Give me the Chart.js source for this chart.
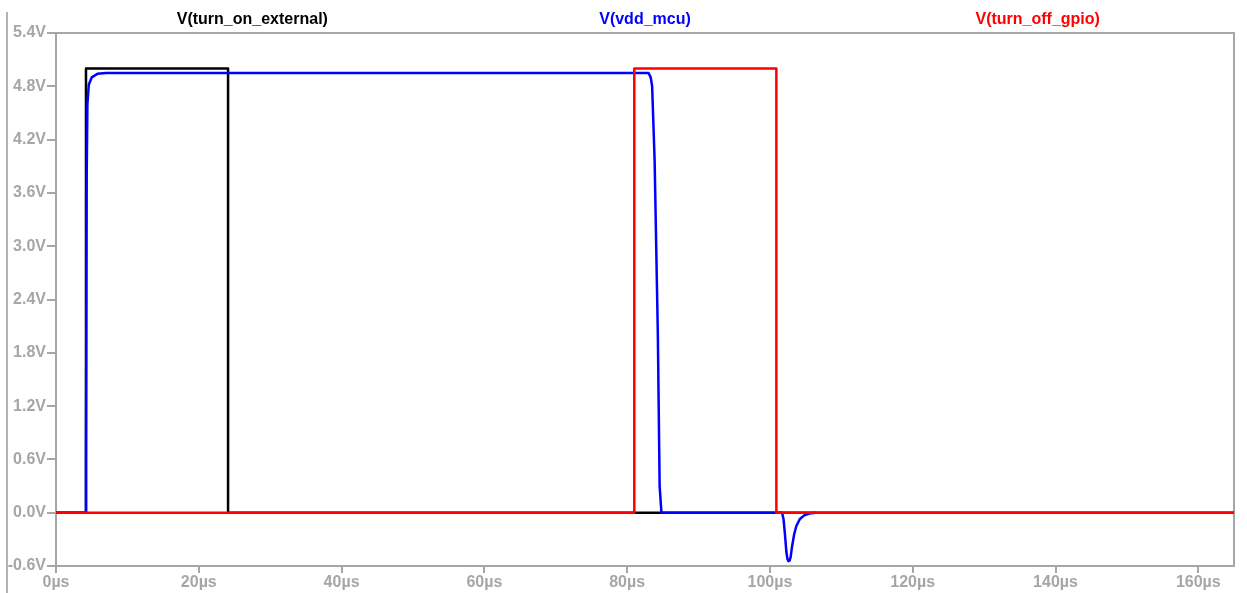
<!DOCTYPE html>
<html>
<head>
<meta charset="utf-8">
<script src="https://cdn.jsdelivr.net/npm/chart.js@4.4.1/dist/chart.umd.min.js"></script>
<style>
  body { margin: 0; background: #fff; }
</style>
</head>
<body>
<canvas id="grafico" width="1247" height="593"></canvas>
<script>
// tensiones (tiempo en us, tension en V)
var tOn = [0, 4.2, 4.2, 24.1, 24.1, 165];
var vOn = [0, 0, 5.0, 5.0, 0, 0];

var tVdd = [0, 4.15, 4.2, 4.3, 4.4, 4.6, 5.0, 5.8, 7.0, 83.0, 83.3, 83.5, 83.85, 84.3, 84.55, 84.8,
            101.7, 101.9, 102.1, 102.3, 102.45, 102.6, 102.75, 102.9, 103.1, 103.4, 103.7, 104.2, 104.8, 105.5, 106.5];
var vVdd = [0, 0, 0.6, 3.8, 4.6, 4.82, 4.9, 4.94, 4.95, 4.95, 4.9, 4.8, 3.96, 2.0, 0.3, 0,
            0, -0.07, -0.24, -0.44, -0.52, -0.545, -0.54, -0.5, -0.38, -0.24, -0.15, -0.07, -0.03, -0.01, 0];

var tOff = [0, 81.0, 81.0, 100.9, 100.9, 165];
var vOff = [0, 0, 5.0, 5.0, 0, 0];

var xTicks = [0, 20, 40, 60, 80, 100, 120, 140, 160];
var yTicks = [-0.6, 0.0, 0.6, 1.2, 1.8, 2.4, 3.0, 3.6, 4.2, 4.8, 5.4];

function puntos(t, v) {
    return t.map(function (x, i) { return { x: x, y: v[i] }; });
}

var gris = '#a6a6a6';
var fuenteEje = { family: 'Liberation Sans, Arial, sans-serif', size: 16, weight: 'bold' };

// marco, titulos y borde de ventana
var marco = {
    id: 'marco',
    beforeDatasetsDraw: function (chart) {
        var a = chart.chartArea, ctx = chart.ctx;
        ctx.save();
        ctx.strokeStyle = gris;
        ctx.lineWidth = 2;
        ctx.strokeRect(a.left, a.top, a.right - a.left, a.bottom - a.top);
        ctx.restore();
    },
    afterDraw: function (chart) {
        var a = chart.chartArea, ctx = chart.ctx;
        ctx.save();
        ctx.strokeStyle = '#b4b4b4';
        ctx.lineWidth = 2;
        ctx.beginPath();
        ctx.moveTo(7, 12);
        ctx.lineTo(7, 593);
        ctx.stroke();
        var ancho = (a.right - a.left) / 3;
        var orden = [2, 1, 0];
        ctx.font = 'bold 16px "Liberation Sans", Arial, sans-serif';
        ctx.textAlign = 'center';
        ctx.textBaseline = 'middle';
        orden.forEach(function (idx, k) {
            var ds = chart.data.datasets[idx];
            ctx.fillStyle = ds.borderColor;
            ctx.fillText(ds.label, a.left + ancho * (k + 0.5), 20);
        });
        ctx.restore();
    }
};

var ctx = document.getElementById('grafico').getContext('2d');
var grafico = new Chart(ctx, {
    type: 'line',
    data: {
        datasets: [{
            label: 'V(turn_off_gpio)',
            data: puntos(tOff, vOff),
            borderColor: '#ff0000',
            borderWidth: 2.5,
            order: 0
        }, {
            label: 'V(vdd_mcu)',
            data: puntos(tVdd, vVdd),
            borderColor: '#0000ff',
            borderWidth: 2.5,
            order: 1
        }, {
            label: 'V(turn_on_external)',
            data: puntos(tOn, vOn),
            borderColor: '#000000',
            borderWidth: 2.5,
            order: 2
        }]
    },
    options: {
        responsive: false,
        animation: false,
        parsing: false,
        elements: { point: { radius: 0 }, line: { tension: 0, borderJoinStyle: 'round' } },
        layout: { padding: { top: 33, right: 13, left: 0, bottom: 0 } },
        plugins: { legend: { display: false }, tooltip: { enabled: false } },
        scales: {
            x: {
                type: 'linear',
                min: 0,
                max: 165,
                afterBuildTicks: function (s) { s.ticks = xTicks.map(function (v) { return { value: v }; }); },
                afterFit: function (s) { s.height = 27; },
                ticks: {
                    color: gris,
                    font: fuenteEje,
                    padding: 0,
                    maxRotation: 0,
                    callback: function (v) { return v + 'µs'; }
                },
                grid: { drawOnChartArea: false, drawTicks: true, tickLength: 7, color: gris, lineWidth: 2 },
                border: { display: false }
            },
            y: {
                min: -0.6,
                max: 5.4,
                afterBuildTicks: function (s) { s.ticks = yTicks.map(function (v) { return { value: v }; }); },
                afterFit: function (s) { s.width = 56; },
                ticks: {
                    color: gris,
                    font: fuenteEje,
                    padding: 1,
                    callback: function (v) { return (Math.round(v * 10) / 10).toFixed(1) + 'V'; }
                },
                grid: { drawOnChartArea: false, drawTicks: true, tickLength: 9, color: gris, lineWidth: 2 },
                border: { display: false }
            }
        }
    },
    plugins: [marco]
});
</script>
</body>
</html>
